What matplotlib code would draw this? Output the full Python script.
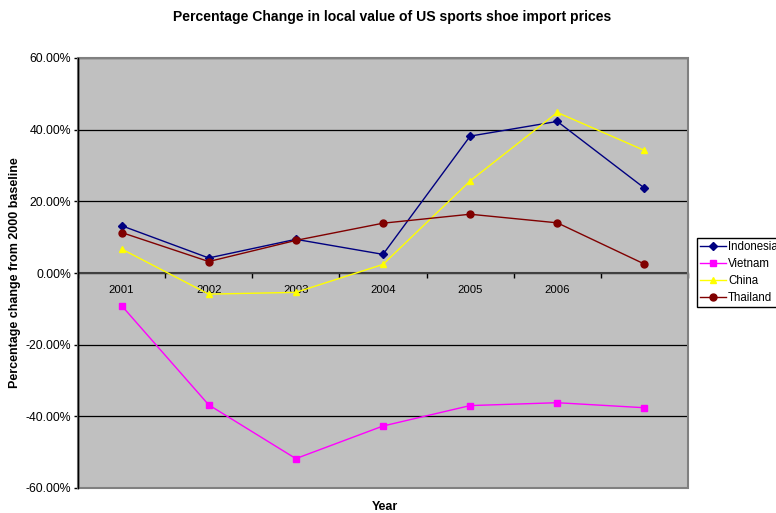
import matplotlib
matplotlib.use("Agg")
import matplotlib.pyplot as plt
from matplotlib.patches import Rectangle
from matplotlib.ticker import FuncFormatter

plt.rcParams['font.family'] = ['Liberation Sans', 'DejaVu Sans']

years = ["2001", "2002", "2003", "2004", "2005", "2006", ""]
indonesia = [13.2, 4.2, 9.4, 5.2, 38.2, 42.3, 23.7]
vietnam = [-9.1, -36.8, -51.8, -42.7, -37.0, -36.2, -37.6]
china = [6.7, -5.9, -5.4, 2.4, 25.7, 44.8, 34.2]
thailand = [11.3, 3.2, 9.1, 13.9, 16.4, 14.0, 2.5]

series = [
    ("Indonesia", indonesia, "#000080", "D", 4.0),
    ("Vietnam", vietnam, "#FF00FF", "s", 4.5),
    ("China", china, "#FFFF00", "^", 5.0),
    ("Thailand", thailand, "#800000", "o", 5.0),
]

W, H = 776, 513
fig = plt.figure(figsize=(W / 100, H / 100), dpi=100)
fig.patch.set_facecolor("white")
L, R, T, B = 78, 688, 58, 488
ax = fig.add_axes([L / W, 1 - B / H, (R - L) / W, (B - T) / H])
ax.set_facecolor("#C0C0C0")

x = list(range(len(years)))
for name, vals, col, mk, ms in series:
    ax.plot(x, vals, color=col, marker=mk, markersize=ms, lw=1.0,
            markeredgecolor=col, label=name, zorder=3)

ax.set_xlim(-0.5, len(years) - 0.5)
ax.set_ylim(-60, 60)
ax.set_yticks(range(-60, 61, 20))
ax.yaxis.set_major_formatter(FuncFormatter(lambda v, p: f"{v:.2f}%"))
ax.grid(axis="y", color="black", lw=0.9, zorder=1)
ax.set_axisbelow(True)

# x axis at zero
ax.spines['bottom'].set_position(('data', 0))
ax.spines['bottom'].set_color("#404040")
ax.spines['bottom'].set_linewidth(1.5)
ax.spines['bottom'].set_zorder(2)
for s in ['top', 'right']:
    ax.spines[s].set_visible(False)
ax.spines['left'].set_color("black")
ax.spines['left'].set_linewidth(1.0)

bounds = [i - 0.5 for i in range(len(years) + 1)]
ax.set_xticks(bounds)
ax.set_xticklabels([""] * len(bounds))
ax.tick_params(axis="x", which="major", direction="out", length=3.5, width=1, color="black")
ax.set_xticks(x, minor=True)
ax.set_xticklabels(years, minor=True)
ax.tick_params(axis="x", which="minor", length=0, pad=8.5, labelsize=8.2, labelcolor="black")
ax.tick_params(axis="y", direction="out", length=3, width=1, pad=2, labelsize=8.8)

# plot-area border
ax.add_patch(Rectangle((0, 0), 1, 1, transform=ax.transAxes, fill=False,
                       edgecolor="#808080", lw=1.5, zorder=4, clip_on=False))
ax.plot([0, 0], [0, 1], transform=ax.transAxes, color="black", lw=1.0, zorder=5, clip_on=False)

fig.text(392 / W, 1 - 17 / H, "Percentage Change in local value of US sports shoe import prices",
         ha="center", va="center", fontsize=10.1, fontweight="bold")
fig.text(384.5 / W, 1 - 506.5 / H, "Year", ha="center", va="center", fontsize=9, fontweight="bold")
fig.text(15 / W, 1 - 273 / H, "Percentage change from 2000 baseline", ha="center", va="center",
         rotation=90, fontsize=9, fontweight="bold")

leg = fig.legend(loc="upper left", bbox_to_anchor=(697 / W, 1 - 238 / H), fontsize=8.3,
                 frameon=True, fancybox=False, edgecolor="black", framealpha=1,
                 handlelength=2.25, handletextpad=0.15, borderpad=0.3, labelspacing=0.42,
                 borderaxespad=0)
leg.get_frame().set_linewidth(1.0)

fig.savefig("out.png", dpi=100)
